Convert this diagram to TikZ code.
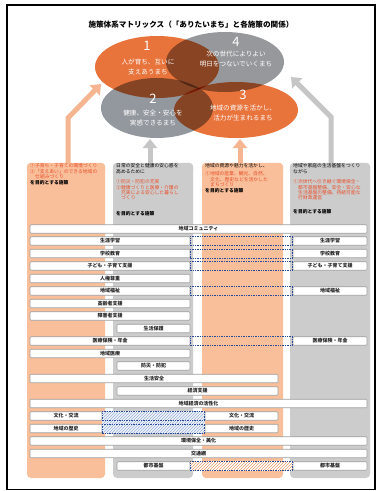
\documentclass[tikz,border=0pt]{standalone}
\usepackage{fontspec}
\setmainfont{Noto Sans CJK JP}
\usetikzlibrary{shapes.geometric,arrows.meta,patterns}
\definecolor{orng}{HTML}{E8733B}
\definecolor{gry}{HTML}{96989B}
\definecolor{gryb}{HTML}{93989F}
\definecolor{lorng}{HTML}{F9BE9A}
\definecolor{lgry}{HTML}{CCCCCC}
\definecolor{arrorng}{HTML}{F6B591}
\definecolor{arrgry}{HTML}{C6C6C6}
\definecolor{redtxt}{HTML}{E8502A}
\definecolor{dotblue}{HTML}{2A4A9A}
\definecolor{hatchblue}{HTML}{9DB6D6}
\definecolor{hatchor}{HTML}{F0A070}
\newcommand\mkrow[5]{\node[rowbox, minimum width={(#3)-(#2)}] (#1) at ({((#2)+(#3))/2},#4) {#5};}
\begin{document}
\begin{tikzpicture}[x=1pt,y=-1pt,
  colbox/.style={rounded corners=4pt, minimum height=315pt, inner sep=0pt, draw=none},
  rowbox/.style={draw=gray!75, fill=white, rounded corners=1pt, minimum height=8.5pt, inner sep=0pt, line width=0.6pt, font=\fontsize{5}{5}\selectfont\bfseries, text=black!85},
  ellip/.style={ellipse, inner sep=0pt, draw=none},
  bigarrow/.style={line width=5pt, -{Triangle[width=14pt,length=9pt]}},
  coltxt/.style={anchor=north west, inner sep=0pt, align=left, font=\fontsize{4.8}{5.4}\selectfont},
  ellnum/.style={text=white, inner sep=0pt, font=\fontsize{13}{13}\selectfont},
  elltxt/.style={text=white, inner sep=0pt, align=center, font=\fontsize{6.6}{10}\selectfont},
  dotcon/.style={draw=dotblue, densely dotted, line width=0.7pt}]
\useasboundingbox (0,0) rectangle (382,491);
\fill[white] (0,0) rectangle (382,491);
\draw[line width=1.3pt] (7,5) rectangle (375,489.5);

% title
\node[inner sep=0pt, font=\fontsize{7.6}{8}\selectfont\bfseries] (title) at (191,25) {施策体系マトリックス（「ありたいまち」と各施策の関係）};

% columns
\node[colbox, fill=lorng, minimum width=78pt] (c1) at (66,320.5) {};
\node[colbox, fill=lgry, minimum width=80pt] (c2) at (153,320.5) {};
\node[colbox, fill=lorng, minimum width=81pt] (c3) at (242.5,320.5) {};
\node[colbox, fill=lgry, minimum width=80pt] (c4) at (330,320.5) {};

% arrows
\coordinate (a1b) at (68,118);
\coordinate (a1t) at (101,84);
\coordinate (a2t) at (150,139);
\coordinate (a3t) at (240,139);
\coordinate (a4b) at (331,117);
\coordinate (a4t) at (291,77);
\draw[bigarrow, arrorng] (c1.north -| a1b) -- (a1b) -- (a1t);
\draw[bigarrow, arrgry] (c2.north -| a2t) -- (a2t);
\draw[bigarrow, arrorng] (c3.north -| a3t) -- (a3t);
\draw[bigarrow, arrgry] (c4.north -| a4b) -- (a4b) -- (a4t);

% redraw column tops over arrow shafts
\fill[lorng, rounded corners=4pt] (c1.north west) rectangle ([yshift=-12pt]c1.north east);
\fill[lgry, rounded corners=4pt] (c2.north west) rectangle ([yshift=-12pt]c2.north east);
\fill[lorng, rounded corners=4pt] (c3.north west) rectangle ([yshift=-12pt]c3.north east);
\fill[lgry, rounded corners=4pt] (c4.north west) rectangle ([yshift=-12pt]c4.north east);

% ellipses
\begin{scope}[blend mode=multiply]
\node[ellip, fill=orng, minimum width=124pt, minimum height=62pt] (e1) at (157,67) {};
\node[ellip, fill=gry, minimum width=118pt, minimum height=60pt] (e4) at (225,62) {};
\node[ellip, fill=gryb, minimum width=112pt, minimum height=60pt] (e2) at (157,108) {};
\node[ellip, fill=orng, minimum width=124pt, minimum height=56pt] (e3) at (236,110) {};
\end{scope}
\node[ellnum] (n1) at (147,46) {1};
\node[elltxt] (l1) at (148,67) {人が育ち、互いに\\支えあうまち};
\node[ellnum] (n4) at (236,42) {4};
\node[elltxt] (l4) at (236,59.5) {次の世代によりよい\\明日をつないでいくまち};
\node[ellnum] (n2) at (153,99) {2};
\node[elltxt] (l2) at (153,118) {健康、安全・安心を\\実感できるまち};
\node[ellnum] (n3) at (243,95) {3};
\node[elltxt] (l3) at (243,113) {地域の資源を活かし、\\活力が生まれるまち};

% column texts
\node[coltxt, text=redtxt] (t1a) at (30,163.5) {①子育ち・子育ての環境づくり\\②「支えあい」のできる地域の\\\hspace*{5pt}仕組みづくり};
\node[coltxt, text=black, font=\fontsize{4.8}{5.4}\selectfont\bfseries] (t1b) at (30,180.5) {を目的とする施策};

\node[coltxt, text=black] (t2a) at (116,163.5) {日常の安全と健康の安心感を\\高めるために};
\node[coltxt, text=redtxt] (t2b) at (116,179.5) {①防災・防犯の充実\\②健康づくりと医療・介護の\\\hspace*{5pt}充実による安心した暮らし\\\hspace*{5pt}づくり};
\node[coltxt, text=black, font=\fontsize{4.8}{5.4}\selectfont\bfseries] (t2c) at (116,211.5) {を目的とする施策};

\node[coltxt, text=black] (t3a) at (205,163.5) {地域の資源や魅力を活かし、};
\node[coltxt, text=redtxt] (t3b) at (205,171.5) {①地域の産業、観光、自然、\\\hspace*{5pt}文化、歴史などを活かした\\\hspace*{5pt}まちづくり};
\node[coltxt, text=black, font=\fontsize{4.8}{5.4}\selectfont\bfseries] (t3c) at (205,188.5) {を目的とする施策};

\node[coltxt, text=black] (t4a) at (293,163.5) {地域や家庭の生活基盤をつくり\\ながら};
\node[coltxt, text=redtxt] (t4b) at (293,179.5) {①次世代へ引き継ぐ環境保全・\\\hspace*{5pt}都市基盤整備、安全・安心な\\\hspace*{5pt}生活基盤の整備、持続可能な\\\hspace*{5pt}行財政運営};
\node[coltxt, text=black, font=\fontsize{4.8}{5.4}\selectfont\bfseries] (t4c) at (293,209.5) {を目的とする施策};

% rows
\mkrow{r1}{30}{367}{229}{地域コミュニティ}
\mkrow{r2L}{30}{190}{241}{生涯学習}
\mkrow{r2R}{293}{367}{241}{生涯学習}
\mkrow{r3L}{30}{190}{253.5}{学校教育}
\mkrow{r3R}{293}{367}{253.5}{学校教育}
\mkrow{r4L}{30}{190}{266}{子ども・子育て支援}
\mkrow{r4R}{293}{367}{266}{子ども・子育て支援}
\mkrow{r5}{30}{190}{278.5}{人権尊重}
\mkrow{r6L}{30}{190}{291}{地域福祉}
\mkrow{r6R}{293}{367}{291}{地域福祉}
\mkrow{r7}{30}{190}{303.5}{高齢者支援}
\mkrow{r8}{30}{190}{316}{障害者支援}
\mkrow{r9}{117}{190}{328.5}{生活保護}
\mkrow{r10L}{30}{190}{341}{医療保険・年金}
\mkrow{r10R}{293}{367}{341}{医療保険・年金}
\mkrow{r11}{30}{190}{353.5}{地域医療}
\mkrow{r12}{117}{190}{366}{防災・防犯}
\mkrow{r13}{30}{278}{378.5}{生活安全}
\mkrow{r14}{117}{278}{391}{経済支援}
\mkrow{r15}{30}{367}{403.5}{地域経済の活性化}
\mkrow{r16L}{30}{102}{416}{文化・交流}
\mkrow{r16R}{205}{278}{416}{文化・交流}
\mkrow{r17L}{30}{102}{428.5}{地域の歴史}
\mkrow{r17R}{205}{278}{428.5}{地域の歴史}
\mkrow{r18}{30}{367}{441}{環境保全・美化}
\mkrow{r19}{30}{367}{453.5}{交通網}
\mkrow{r20L}{117}{190}{466}{都市基盤}
\mkrow{r20R}{293}{367}{466}{都市基盤}

% dotted connectors
\draw[dotcon] (r2L.north east) rectangle (r2R.south west);
\draw[dotcon] (r3L.north east) rectangle (r3R.south west);
\draw[dotcon] (r4L.north east) rectangle (r4R.south west);
\draw[dotcon] (r6L.north east) rectangle (r6R.south west);
\draw[dotcon] (r10L.north east) rectangle (r10R.south west);
% hatched culture region
\fill[green!8!blue!6] (r16L.north east) rectangle (r17R.south west);
\fill[pattern=north east lines, pattern color=hatchblue] (r16L.north east) rectangle (r17R.south west);
\draw[dotcon] (r16L.north east) rectangle (r16R.south west);
\draw[dotcon] (r17L.north east) rectangle (r17R.south west);
% hatched urban region
\fill[white] (r20L.north east) rectangle (r20R.south west);
\fill[pattern=north east lines, pattern color=hatchor] (r20L.north east) rectangle (r20R.south west);
\draw[dotcon] (r20L.north east) rectangle (r20R.south west);
\end{tikzpicture}
\end{document}
